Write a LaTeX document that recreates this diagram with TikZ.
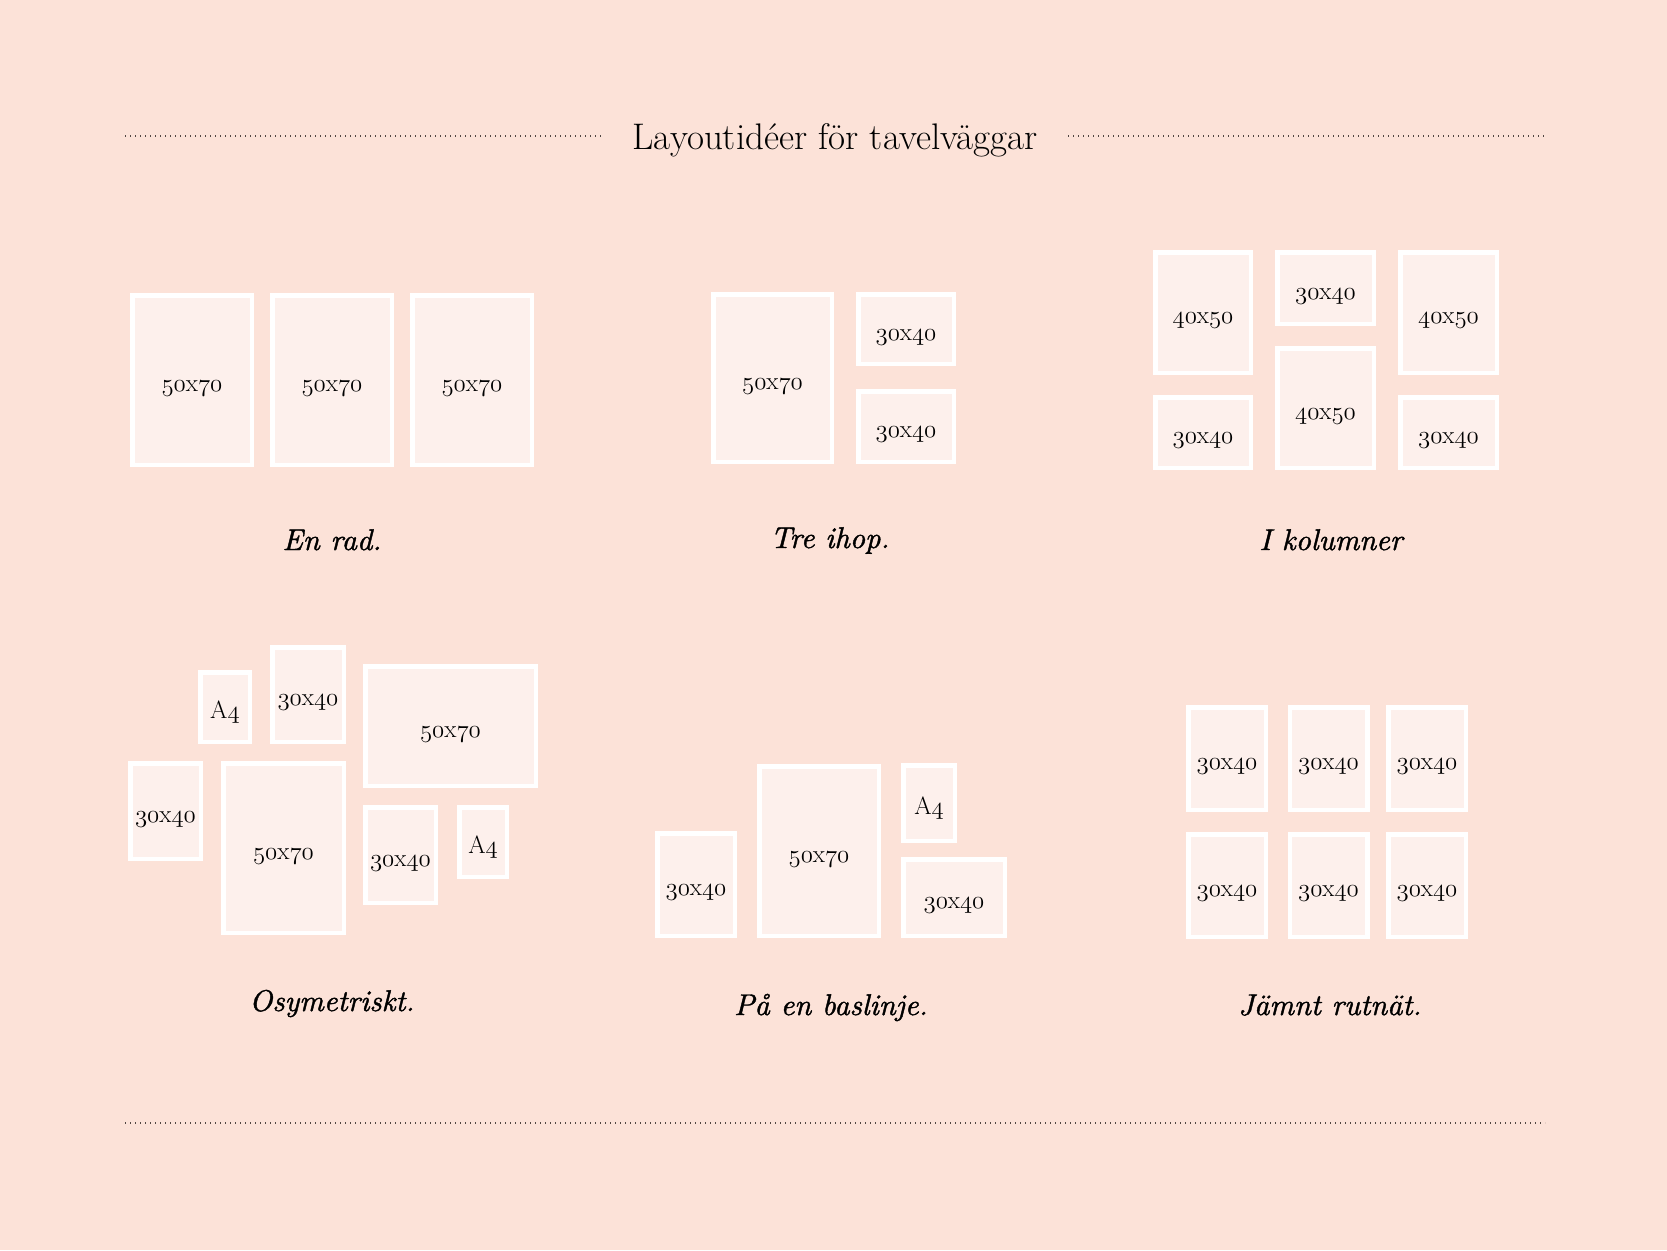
\documentclass[tikz,border=0pt]{standalone}
\usepackage{fontspec}
\usepackage{tikz}
\usepackage{amsmath}

\newfontface\rubrik{lmroman10-italic.otf}[FakeBold=1.3]

\definecolor{bakgrund}{RGB}{252,226,216}
\definecolor{fyll}{RGB}{253,240,236}
\definecolor{prick}{RGB}{80,70,66}

% old style digits from the math italic font
\newcommand{\gamla}[1]{{\usefont{OML}{cmm}{m}{it}#1}}
\newcommand{\storlek}[2]{\gamla{#1}x\gamla{#2}}

\tikzset{
  tavla/.style 2 args={draw=white, fill=fyll, line width=4.5pt, inner sep=0pt,
    minimum width=#1pt-4.5pt, minimum height=#2pt-4.5pt,
    text height=22pt, text depth=0pt,
    font=\fontsize{25}{28}\selectfont},
  etikett/.style={anchor=base, font=\fontsize{30}{34}\rubrik},
  prickad/.style={draw=prick, line width=1.5pt, dash pattern=on 1.2pt off 3.8pt}
}

\begin{document}
\begin{tikzpicture}[x=1pt,y=-1pt]
			\fill[bakgrund] (0,0) rectangle (1667,1250);
			\useasboundingbox (0,0) rectangle (1667,1250);

			\node[anchor=base, font=\fontsize{37}{40}\selectfont] (titel) at (835,149) {Layoutidéer för tavelväggar};
			\coordinate (v1) at (125,136);
			\coordinate (v2) at (603,136);
			\coordinate (h1) at (1068,136);
			\coordinate (h2) at (1545,136);
			\coordinate (b1) at (125,1123);
			\coordinate (b2) at (1545,1123);
			\draw[prickad] (v1) -- (v2);
			\draw[prickad] (h1) -- (h2);
			\draw[prickad] (b1) -- (b2);

			% en rad
			\node[tavla={124}{174}] (rad1) at (192,380) {\storlek{50}{70}};
			\node[tavla={124}{174}] (rad2) at (332,380) {\storlek{50}{70}};
			\node[tavla={124}{174}] (rad3) at (472,380) {\storlek{50}{70}};
			\node[etikett] (enrad) at (332,550) {En rad.};

			% tre ihop
			\node[tavla={123}{172}] (tre1) at (772.5,378) {\storlek{50}{70}};
			\node[tavla={100}{74}] (tre2) at (906,329) {\storlek{30}{40}};
			\node[tavla={100}{75}] (tre3) at (906,426.5) {\storlek{30}{40}};
			\node[etikett] (treihop) at (830,548) {Tre ihop.};

			% i kolumner
			\node[tavla={100}{125}] (kol1) at (1203,312.5) {\storlek{40}{50}};
			\node[tavla={100}{75}] (kol2) at (1203,432.5) {\storlek{30}{40}};
			\node[tavla={101}{76}] (kol3) at (1325.5,288) {\storlek{30}{40}};
			\node[tavla={101}{124}] (kol4) at (1325.5,408) {\storlek{40}{50}};
			\node[tavla={101}{125}] (kol5) at (1448.5,312.5) {\storlek{40}{50}};
			\node[tavla={101}{75}] (kol6) at (1448.5,432.5) {\storlek{30}{40}};
			\node[etikett] (ikolumner) at (1331,550) {I kolumner};

			% osymetriskt
			\node[tavla={54}{74}] (osy1) at (225,707) {A\gamla{4}};
			\node[tavla={76}{99}] (osy2) at (308,694.5) {\storlek{30}{40}};
			\node[tavla={175}{124}] (osy3) at (450.5,726) {\storlek{50}{70}};
			\node[tavla={75}{100}] (osy4) at (165.5,811) {\storlek{30}{40}};
			\node[tavla={125}{174}] (osy5) at (283.5,848) {\storlek{50}{70}};
			\node[tavla={75}{100}] (osy6) at (400.5,855) {\storlek{30}{40}};
			\node[tavla={52}{74}] (osy7) at (483,842) {A\gamla{4}};
			\node[etikett] (osymetriskt) at (332,1011) {Osymetriskt.};

			% baslinje
			\node[tavla={82}{107}] (bas1) at (696,884.5) {\storlek{30}{40}};
			\node[tavla={124}{174}] (bas2) at (819,851) {\storlek{50}{70}};
			\node[tavla={56}{80}] (bas3) at (929,803) {A\gamla{4}};
			\node[tavla={106}{81}] (bas4) at (954,897.5) {\storlek{30}{40}};
			\node[etikett] (baslinje) at (831,1015) {På en baslinje.};

			% rutnät
			\foreach \x [count=\i] in {1227,1328.5,1427}
			\foreach \y [count=\j] in {758.5,885.5}
			\node[tavla={82}{107}] (rut\i\j) at (\x,\y) {\storlek{30}{40}};
			\node[etikett] (rutnat) at (1330,1015) {Jämnt rutnät.};
		\end{tikzpicture}
\end{document}
